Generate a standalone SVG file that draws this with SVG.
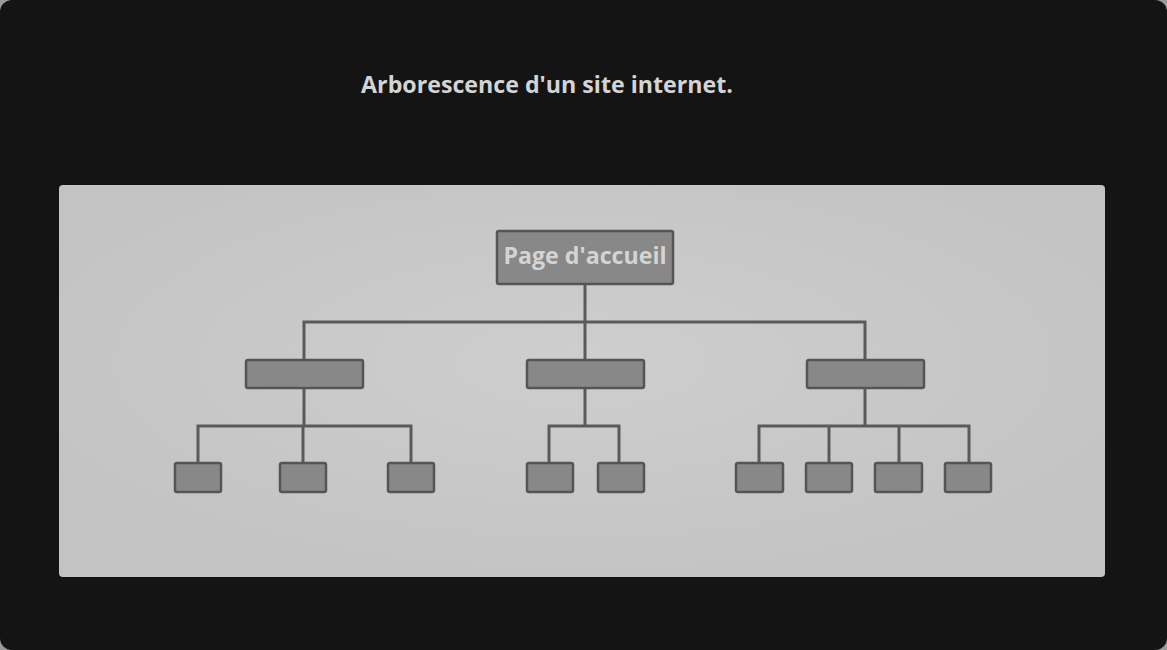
<svg xmlns="http://www.w3.org/2000/svg" width="1167" height="650" viewBox="0 0 1167 650">
<defs>
<radialGradient id="pg" cx="0.5" cy="0.45" r="0.6">
<stop offset="0" stop-color="#cecece"/>
<stop offset="1" stop-color="#c3c3c3"/>
</radialGradient>
<style>
.box{fill:#888888;stroke:#555555;stroke-width:2.5}
.ln{fill:none;stroke:#5a5a5a;stroke-width:3}
.t{font-family:"Open Sans","Liberation Sans",sans-serif;font-weight:bold;fill:#d4d4d4}
</style>
</defs>
<rect width="1167" height="650" fill="#9a9a9a"/>
<rect width="1167" height="650" rx="12" fill="#141414"/>
<text class="t" x="547" y="93" font-size="23.2" text-anchor="middle">Arborescence d'un site internet.</text>
<rect x="59" y="185" width="1046" height="392" rx="4" fill="url(#pg)"/>
<g id="connectors">
<path class="ln" d="M585,284 V322 M304,360 V322 H865 V360 M585,322 V360"/>
<path class="ln" d="M304,388 V426 M198,463 V426 H411 V463 M303,426 V463"/>
<path class="ln" d="M585,388 V426 M549,463 V426 H619 V463"/>
<path class="ln" d="M865,388 V426 M759,463 V426 H969 V463 M829,426 V463 M899,426 V463"/>
</g>
<g id="root"><rect class="box" x="497" y="231" width="176" height="53" rx="2"/>
<text class="t" x="585" y="264" font-size="23.2" text-anchor="middle">Page d'accueil</text></g>
<g id="mid1"><rect class="box" x="246" y="360" width="117" height="28" rx="2"/></g>
<g id="mid2"><rect class="box" x="527" y="360" width="117" height="28" rx="2"/></g>
<g id="mid3"><rect class="box" x="807" y="360" width="117" height="28" rx="2"/></g>
<g id="leaf1"><rect class="box" x="175" y="463" width="46" height="29" rx="2"/></g>
<g id="leaf2"><rect class="box" x="280" y="463" width="46" height="29" rx="2"/></g>
<g id="leaf3"><rect class="box" x="388" y="463" width="46" height="29" rx="2"/></g>
<g id="leaf4"><rect class="box" x="527" y="463" width="46" height="29" rx="2"/></g>
<g id="leaf5"><rect class="box" x="598" y="463" width="46" height="29" rx="2"/></g>
<g id="leaf6"><rect class="box" x="736" y="463" width="47" height="29" rx="2"/></g>
<g id="leaf7"><rect class="box" x="806" y="463" width="46" height="29" rx="2"/></g>
<g id="leaf8"><rect class="box" x="875" y="463" width="47" height="29" rx="2"/></g>
<g id="leaf9"><rect class="box" x="945" y="463" width="46" height="29" rx="2"/></g>
</svg>
